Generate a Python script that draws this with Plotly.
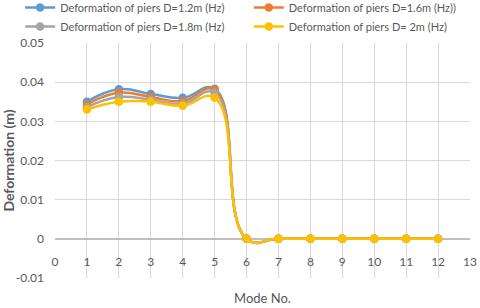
import plotly.graph_objects as go

modes = [1, 2, 3, 4, 5, 6, 7, 8, 9, 10, 11, 12]
d12 = [0.035, 0.0382, 0.037, 0.036, 0.0383, 0, 0, 0, 0, 0, 0, 0]
d16 = [0.0343, 0.0373, 0.0362, 0.0352, 0.0381, 0, 0, 0, 0, 0, 0, 0]
d18 = [0.0336, 0.0362, 0.0355, 0.0345, 0.0373, 0, 0, 0, 0, 0, 0, 0]
d20 = [0.033, 0.035, 0.035, 0.034, 0.036, 0, 0, 0, 0, 0, 0, 0]
names = ["Deformation of piers D=1.2m (Hz)", "Deformation of piers D=1.6m (Hz))",
         "Deformation of piers D=1.8m (Hz)", "Deformation of piers D= 2m (Hz)"]
colors = ["#5B9BD5", "#ED7D31", "#A5A5A5", "#FFC000"]
legends = ["legend", "legend2", "legend", "legend2"]
xticks = list(range(0, 14))
yticks = [-0.01, 0, 0.01, 0.02, 0.03, 0.04, 0.05]
yticktext = ["-0.01", "0", "0.01", "0.02", "0.03", "0.04", "0.05"]

fig = go.Figure()
for vals, nm, c, lg in zip([d12, d16, d18, d20], names, colors, legends):
    fig.add_trace(go.Scatter(x=modes, y=vals, name=nm, mode="lines+markers",
                             line=dict(color=c, width=2.5, shape="spline", smoothing=1.3),
                             marker=dict(color=c, size=8.5), legend=lg))
# invisible helper trace for the axis-crossing tick label axis
fig.add_trace(go.Scatter(x=[xticks[0], xticks[-1]], y=[None, None], xaxis="x2",
                         showlegend=False, hoverinfo="skip"))

font = dict(family="Lato, Open Sans, sans-serif", size=12, color="#595959")
lfont = dict(family="Lato, Open Sans, sans-serif", size=11, color="#595959")
fig.update_layout(
    width=480, height=308,
    margin=dict(l=55, r=10, t=43, b=30, autoexpand=False),
    paper_bgcolor="white", plot_bgcolor="white",
    font=font,
    showlegend=True,
    legend=dict(x=-0.084, y=1.213, xanchor="left", yanchor="top", orientation="v",
                bgcolor="rgba(0,0,0,0)", font=lfont, itemwidth=30, tracegroupgap=0),
    legend2=dict(x=0.467, y=1.213, xanchor="left", yanchor="top", orientation="v",
                 bgcolor="rgba(0,0,0,0)", font=lfont, itemwidth=30, tracegroupgap=0),
    xaxis=dict(range=[0, 13], tickvals=xticks, showticklabels=False,
               showgrid=True, gridcolor="#D9D9D9", gridwidth=1,
               showline=False, zeroline=False, ticks="",
               title=dict(text="Mode No.", font=dict(size=13, color="#595959"), standoff=15)),
    xaxis2=dict(range=[0, 13], tickvals=xticks, ticktext=[str(t) for t in xticks],
                overlaying="x", anchor="free", position=1/6, side="bottom",
                showgrid=False, showline=False, zeroline=False,
                ticks="", ticklabelstandoff=14),
    yaxis=dict(range=[-0.01, 0.05], tickvals=yticks, ticktext=yticktext,
               showgrid=True, gridcolor="#D9D9D9", gridwidth=1,
               zeroline=True, zerolinecolor="#BFBFBF", zerolinewidth=2,
               ticks="", ticklabelstandoff=10,
               title=dict(text="<b>Deformation (m)</b>", font=dict(size=14, color="#595959"), standoff=13)),
)
fig.write_html("out.html", post_script="document.body.style.margin='0';",
               config={"displayModeBar": False})
